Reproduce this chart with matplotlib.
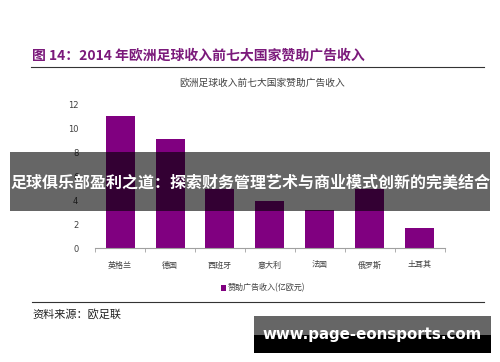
"""Recreate: 2014 European football top-7 countries sponsorship revenue bar chart."""

import matplotlib
matplotlib.use("Agg")
import matplotlib.pyplot as plt
from matplotlib.patches import Rectangle
import numpy as np

plt.rcParams["font.family"] = ["Noto Sans CJK SC", "DejaVu Sans"]

countries = ["英格兰", "德国", "西班牙", "意大利", "法国", "俄罗斯", "土耳其"]
revenue = [11.0, 9.1, 4.9, 3.9, 3.2, 4.9, 1.7]
yticks = [0, 2, 4, 6, 8, 10, 12]

W, H = 500, 362
PURPLE = "#800080"

fig = plt.figure(figsize=(W / 100, H / 100), dpi=100)


def fx(px):
    return px / W


def fy(py):
    return 1 - py / H


# axes: x from 95 to 445 px, y 0 at 248 px, 12 at 104 px
ax = fig.add_axes([fx(95), fy(248), fx(350), (248 - 104) / H])
x = np.arange(len(countries))
ax.bar(x, revenue, width=0.58, color=PURPLE, label="赞助广告收入(亿欧元)", zorder=2)
ax.set_xlim(-0.5, len(countries) - 0.5)
ax.set_ylim(0, 12)
ax.set_yticks(yticks)
ax.set_yticklabels([str(v) for v in yticks], fontsize=6, color="#404040",
                   family=["DejaVu Sans"])
ax.set_xticks(x)
ax.set_xticklabels(countries, fontsize=5.8, color="#404040")
ax.set_xticks(np.arange(len(countries) + 1) - 0.5, minor=True)
ax.tick_params(axis="x", which="major", length=0, pad=9)
ax.tick_params(axis="x", which="minor", length=3, color="#a0a0a0", direction="out")
ax.tick_params(axis="y", length=0, pad=12)
for side in ["top", "right", "left"]:
    ax.spines[side].set_visible(False)
ax.spines["bottom"].set_color("#a0a0a0")
ax.spines["bottom"].set_linewidth(0.8)

# legend
fig.legend(loc="center", bbox_to_anchor=(fx(263), fy(288)), frameon=False,
           fontsize=5.8, handlelength=0.7, handleheight=0.7, handletextpad=0.2,
           labelcolor="#404040")

# titles and rules
fig.text(fx(32), fy(55), "图 14：2014 年欧洲足球收入前七大国家赞助广告收入",
         fontsize=10, fontweight="bold", color="#7b1a7b", va="center", ha="left")
fig.add_artist(plt.Line2D([fx(31), fx(484)], [fy(67), fy(67)], color="#333333", lw=0.8))
fig.text(fx(262), fy(83), "欧洲足球收入前七大国家赞助广告收入",
         fontsize=7, color="#404040", va="center", ha="center")
fig.add_artist(plt.Line2D([fx(32), fx(484)], [fy(302), fy(302)], color="#333333", lw=0.8))
fig.text(fx(32), fy(314), "资料来源：欧足联", fontsize=8, color="#222222",
         va="center", ha="left")

# overlay banner
fig.add_artist(Rectangle((fx(10), fy(211)), fx(480), (211 - 152) / H,
                         transform=fig.transFigure, color="black", alpha=0.6, lw=0))
fig.text(fx(250), fy(182), "足球俱乐部盈利之道：探索财务管理艺术与商业模式创新的完美结合",
         fontsize=11.5, fontweight="bold", color="white", va="center", ha="center")

# watermark box
fig.add_artist(Rectangle((fx(254), fy(335)), fx(237), (335 - 316) / H,
                         transform=fig.transFigure, color="black", alpha=0.6, lw=0))
fig.add_artist(Rectangle((fx(254), fy(353)), fx(237), (353 - 335) / H,
                         transform=fig.transFigure, color="black", lw=0))
fig.text(fx(372), fy(335), "www.page-eonsports.com", fontsize=10.8,
         fontweight="bold", color="white", va="center", ha="center",
         family=["DejaVu Sans"])

fig.savefig("out.png", dpi=100)
